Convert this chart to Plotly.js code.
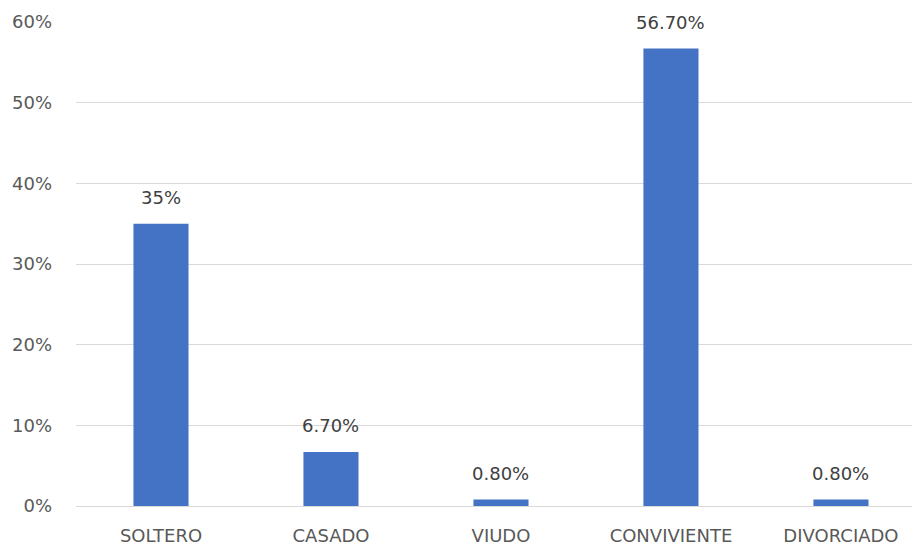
<!DOCTYPE html>
<html>
<head>
<meta charset="utf-8">
<script src="https://cdn.plot.ly/plotly-3.0.1.min.js"></script>
<style>
  html, body { margin: 0; padding: 0; background: #fff; overflow: hidden; }
  #chart { width: 912px; height: 546px; }
</style>
</head>
<body>
<div id="chart"></div>
<script>
// Estado civil: porcentaje por categoría
const categories = ["SOLTERO", "CASADO", "VIUDO", "CONVIVIENTE", "DIVORCIADO"];
const values = [0.35, 0.067, 0.008, 0.567, 0.008];
const valueLabels = ["35%", "6.70%", "0.80%", "56.70%", "0.80%"];
const yTickValues = [0, 0.1, 0.2, 0.3, 0.4, 0.5, 0.6];
const yTickLabels = ["0%", "10%", "20%", "30%", "40%", "50%", "60%"];

const fontFamily = "'DejaVu Sans', sans-serif";
const textGray = "#595959";

const trace = {
  type: "bar",
  x: categories,
  y: values,
  marker: { color: "#4472C4" },
  hoverinfo: "skip"
};

// Value labels sit above each bar, anchored at the bar's own value
const labelAnnotations = categories.map((cat, i) => ({
  x: cat,
  y: values[i],
  xref: "x",
  yref: "y",
  text: valueLabels[i],
  showarrow: false,
  yanchor: "middle",
  yshift: 26,
  font: { family: fontFamily, size: 18, color: "#404040" }
}));

const layout = {
  width: 912,
  height: 546,
  margin: { l: 76, r: 0, t: 22, b: 40 },
  paper_bgcolor: "#ffffff",
  plot_bgcolor: "#ffffff",
  showlegend: false,
  bargap: 0.676,
  font: { family: fontFamily, size: 18, color: textGray },
  annotations: labelAnnotations,
  xaxis: {
    range: [-0.5, 4.418],
    showgrid: false,
    showline: false,
    zeroline: false,
    ticks: "",
    tickfont: { family: fontFamily, size: 18, color: textGray },
    ticklabelstandoff: 17,
    fixedrange: true
  },
  yaxis: {
    range: [0, 0.6],
    tickvals: yTickValues,
    ticktext: yTickLabels,
    showgrid: true,
    gridcolor: "#d9d9d9",
    gridwidth: 1,
    zeroline: true,
    zerolinecolor: "#d9d9d9",
    zerolinewidth: 1,
    showline: false,
    ticks: "",
    tickfont: { family: fontFamily, size: 18, color: textGray },
    ticklabelstandoff: 23,
    fixedrange: true
  }
};

Plotly.newPlot("chart", [trace], layout, { displayModeBar: false, staticPlot: true });
</script>
</body>
</html>
